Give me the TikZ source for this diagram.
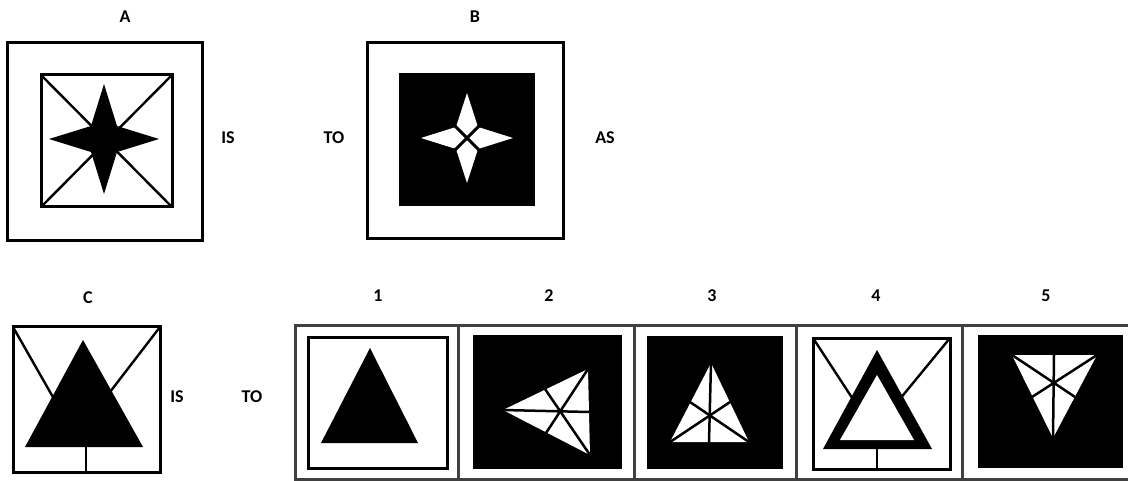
\documentclass[tikz,border=0pt]{standalone}
\usepackage{fontspec}
\setmainfont{Carlito}
\begin{document}
\begin{tikzpicture}[x=1pt, y=-1pt,
    lbl/.style={font=\fontsize{18}{20}\selectfont\bfseries},
    frame/.style={line width=3pt},
    thin/.style={line width=2.4pt},
    strip/.style={line width=3pt, draw=black!75}]
    \useasboundingbox (0,0) rectangle (1128,481);

    % Top row labels
    \node[lbl] (lA) at (125,17) {A};
    \node[lbl] (lB) at (475,17) {B};
    \node[lbl] (is1) at (228,138) {IS};
    \node[lbl] (to1) at (334,138) {TO};
    \node[lbl] (as1) at (605,138) {AS};

    % Figure A
    \draw[frame] (7,43) rectangle (202,241);
    \draw[frame] (41,75) rectangle (172,207);
    \draw[thin] (41,75) -- (172,207);
    \draw[thin] (172,75) -- (41,207);
    \fill (104,84) -- (117,126) -- (159,139) -- (117,152) -- (104,194)
        -- (91,152) -- (49,139) -- (91,126) -- cycle;

    % Figure B
    \draw[frame] (367,43) rectangle (563,239);
    \fill (399,73) rectangle (535,206);
    \fill[white] (467,93) -- (478,127) -- (513,138) -- (478,149) -- (467,183)
        -- (456,149) -- (421,138) -- (456,127) -- cycle;
    \draw[line width=3pt] (455,126) -- (479,150);
    \draw[line width=3pt] (479,126) -- (455,150);

    % Bottom row labels
    \node[lbl] (lC) at (88,298) {C};
    \node[lbl] (is2) at (177,397) {IS};
    \node[lbl] (to2) at (252,397) {TO};
    \node[lbl] (l1) at (378,296) {1};
    \node[lbl] (l2) at (549,296) {2};
    \node[lbl] (l3) at (712,296) {3};
    \node[lbl] (l4) at (876,296) {4};
    \node[lbl] (l5) at (1046,296) {5};

    % Figure C
    \draw[frame] (13,327) rectangle (160,472);
    \draw[thin] (13,327) -- (70,427);
    \draw[thin] (160,327) -- (100,405);
    \draw[thin] (86,447) -- (86,472);
    \fill (83,340) -- (143,447) -- (25,447) -- cycle;

    % Strip of answers
    \draw[strip] (1130,326) -- (295,326) -- (295,479) -- (1130,479);
    \foreach \xd in {458,634,796,962}
        \draw[strip] (\xd,326) -- (\xd,479);

    % Answer 1
    \draw[frame] (308,337) rectangle (447,468);
    \fill (370,348) -- (418,443) -- (321,443) -- cycle;

    % Answer 2
    \fill (473,335) rectangle (622,469);
    \fill[white] (503,410) -- (588,369) -- (590,455) -- cycle;
    \draw[line width=2.5pt] (503,410) -- (589,412);
    \draw[line width=2.5pt] (588,369) -- (546,433);
    \draw[line width=2.5pt] (590,455) -- (545,389);

    % Answer 3
    \fill (647,336) rectangle (783,469);
    \fill[white] (711,363) -- (749,442) -- (670,442) -- cycle;
    \draw[line width=2.5pt] (711,363) -- (709,442);
    \draw[line width=2.5pt] (670,442) -- (730,402);
    \draw[line width=2.5pt] (749,442) -- (690,402);

    % Answer 4
    \draw[frame] (813,338) rectangle (950,469);
    \draw[thin] (813,338) -- (860,410);
    \draw[thin] (950,338) -- (895,405);
    \draw[thin] (877,449) -- (877,469);
    \fill (877,350) -- (932,449) -- (823,449) -- cycle;
    \fill[white] (877,375) -- (914,440) -- (840,440) -- cycle;

    % Answer 5
    \fill (978,335) rectangle (1123,468);
    \fill[white] (1012,355) -- (1097,355) -- (1053,438) -- cycle;
    \draw[line width=2.5pt] (1054,355) -- (1053,438);
    \draw[line width=2.5pt] (1012,355) -- (1075,397);
    \draw[line width=2.5pt] (1097,355) -- (1032,397);
\end{tikzpicture}
\end{document}
